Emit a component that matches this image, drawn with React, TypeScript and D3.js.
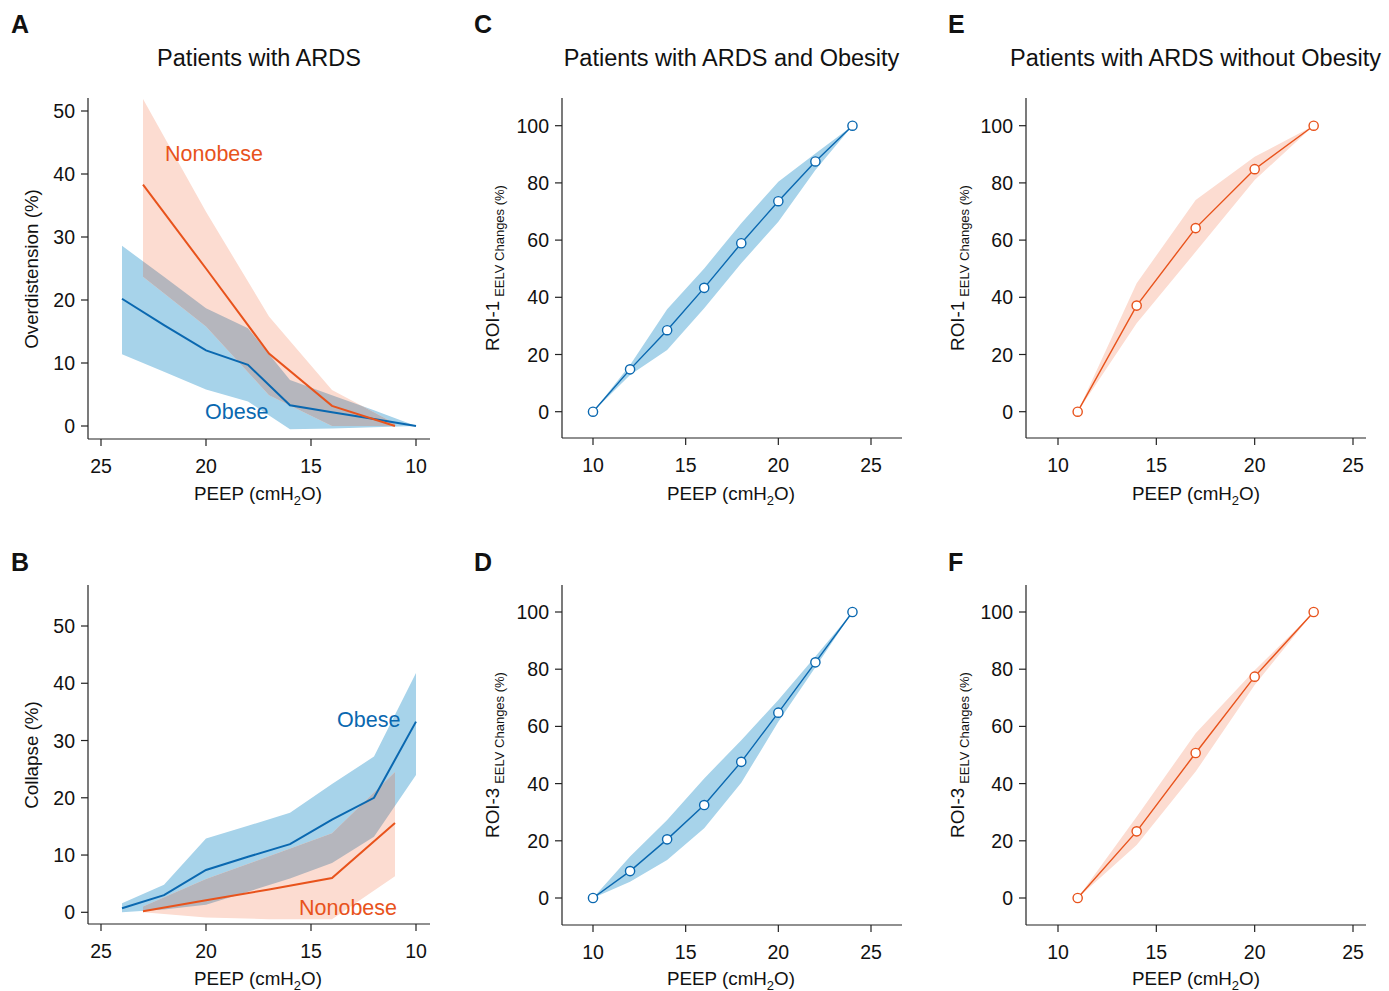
import React from 'react';
import * as d3 from 'd3';

// ---------- DATA ----------
const obesePeep = [24, 22, 20, 18, 16, 14, 12, 10];
const nonobesePeep = [23, 20, 17, 14, 11];

// Panel A: Overdistension (%)
const overObeseMean = [20.2, 16.0, 12.0, 9.7, 3.3, 2.2, 1.1, 0];
const overObeseLo = [11.4, 8.6, 5.8, 3.9, -0.5, -0.4, -0.2, 0];
const overObeseHi = [28.6, 23.7, 18.7, 15.5, 7.3, 4.9, 2.5, 0];
const overNonMean = [38.3, 25.0, 11.5, 3.2, 0];
const overNonLo = [23.7, 15.8, 4.9, 0, 0];
const overNonHi = [51.9, 34.0, 17.4, 5.7, 0.4];

// Panel B: Collapse (%)
const colObeseMean = [0.7, 3.0, 7.4, 9.7, 11.9, 16.2, 20.0, 33.3];
const colObeseLo = [0, 0.5, 1.3, 3.6, 5.9, 8.6, 13.2, 24.0];
const colObeseHi = [1.6, 4.8, 12.9, 15.1, 17.4, 22.4, 27.2, 41.8];
const colNonMean = [0.2, 2.1, 4.0, 6.0, 15.6];
const colNonLo = [0, -0.9, -1.2, -1.2, 6.3];
const colNonHi = [1.0, 5.8, 9.8, 13.8, 24.5];

// Panel C: ROI-1, obese
const cPeep = [10, 12, 14, 16, 18, 20, 22, 24];
const cMean = [0, 14.8, 28.5, 43.3, 58.9, 73.6, 87.5, 100];
const cLo = [0, 12.8, 21.6, 36.2, 51.9, 66.4, 84.5, 100];
const cHi = [0, 16.3, 35.8, 50.1, 65.9, 80.4, 90.3, 100];

// Panel D: ROI-3, obese
const dMean = [0, 9.4, 20.5, 32.5, 47.6, 64.8, 82.4, 100];
const dLo = [0, 5.7, 13.3, 24.4, 40.3, 61.6, 80.7, 100];
const dHi = [0, 14.5, 27.3, 41.8, 55.2, 69.2, 84.4, 100];

// Panel E: ROI-1, nonobese
const ePeep = [11, 14, 17, 20, 23];
const eMean = [0, 37.1, 64.2, 84.8, 100];
const eLo = [0, 30.9, 55.9, 81.0, 100];
const eHi = [0, 44.9, 74.0, 89.1, 100];

// Panel F: ROI-3, nonobese
const fMean = [0, 23.3, 50.7, 77.4, 100];
const fLo = [0, 18.5, 44.2, 74.5, 100];
const fHi = [0, 28.4, 57.6, 79.6, 100];

const peepTicks = [25, 20, 15, 10];
const peepTicksFwd = [10, 15, 20, 25];
const pctTicks50 = [0, 10, 20, 30, 40, 50];
const pctTicks100 = [0, 20, 40, 60, 80, 100];

const titles = ['Patients with ARDS', 'Patients with ARDS and Obesity', 'Patients with ARDS without Obesity'];

// ---------- STYLE ----------
const BLUE = '#0a68b0';
const BLUE_BAND = '#a7d3ea';
const ORANGE = '#e8531c';
const ORANGE_BAND = '#fcdcd1';
const GREY = '#b5b6bd';
const FONT = '"Liberation Sans", Arial, Helvetica, sans-serif';
const TICK_FS = 19.5;
const LABEL_FS = 18.8;

type Pt = { x: number; m: number; lo: number; hi: number };
const zipPts = (xs: number[], m: number[], lo: number[], hi: number[]): Pt[] =>
  xs.map((x, i) => ({ x, m: m[i], lo: lo[i], hi: hi[i] }));

type AxisCfg = {
  x: d3.ScaleLinear<number, number>;
  y: d3.ScaleLinear<number, number>;
  xTicks: number[];
  yTicks: number[];
  xLine: [number, number];
  yLine: [number, number];
};

function Axes({ x, y, xTicks, yTicks, xLine, yLine }: AxisCfg) {
  const ax = xLine[0];
  const ay = yLine[1];
  return (
    <g stroke="#222" strokeWidth={1.2} fill="none">
      <line x1={ax} x2={ax} y1={yLine[0]} y2={yLine[1]} />
      <line x1={xLine[0]} x2={xLine[1]} y1={ay} y2={ay} />
      {xTicks.map((t) => (
        <g key={'x' + t}>
          <line x1={x(t)} x2={x(t)} y1={ay} y2={ay + 7} />
          <text x={x(t)} y={ay + 33.5} textAnchor="middle" fill="#111" stroke="none" fontSize={TICK_FS} fontFamily={FONT}>
            {t}
          </text>
        </g>
      ))}
      {yTicks.map((t) => (
        <g key={'y' + t}>
          <line x1={ax - 7} x2={ax} y1={y(t)} y2={y(t)} />
          <text x={ax - 13} y={y(t) + 7} textAnchor="end" fill="#111" stroke="none" fontSize={TICK_FS} fontFamily={FONT}>
            {t}
          </text>
        </g>
      ))}
    </g>
  );
}

function PeepLabel({ cx, y }: { cx: number; y: number }) {
  return (
    <text x={cx} y={y} textAnchor="middle" fontSize={LABEL_FS} fontFamily={FONT} fill="#111">
      PEEP (cmH
      <tspan fontSize={13} dy={4.5}>2</tspan>
      <tspan dy={-4.5}>O)</tspan>
    </text>
  );
}

function RoiLabel({ x, cy, roi }: { x: number; cy: number; roi: string }) {
  return (
    <text transform={`translate(${x},${cy}) rotate(-90)`} textAnchor="middle" fontSize={LABEL_FS} fontFamily={FONT} fill="#111">
      {roi}
      <tspan fontSize={13} dy={5} dx={4}>EELV Changes (%)</tspan>
    </text>
  );
}

function ComparePanel(props: {
  id: string;
  cfg: AxisCfg;
  obese: Pt[];
  non: Pt[];
  labels: { text: string; x: number; y: number; color: string }[];
}) {
  const { cfg, obese, non, id } = props;
  const { x, y } = cfg;
  const area = d3
    .area<Pt>()
    .x((d) => x(d.x))
    .y0((d) => y(d.lo))
    .y1((d) => y(d.hi));
  const line = d3
    .line<Pt>()
    .x((d) => x(d.x))
    .y((d) => y(d.m));
  return (
    <g>
      <defs>
        <clipPath id={'clip-' + id}>
          <path d={area(obese) || ''} />
        </clipPath>
      </defs>
      <path d={area(obese) || ''} fill={BLUE_BAND} />
      <path d={area(non) || ''} fill={ORANGE_BAND} />
      <path d={area(non) || ''} fill={GREY} clipPath={`url(#clip-${id})`} />
      <path d={line(obese) || ''} fill="none" stroke={BLUE} strokeWidth={2} />
      <path d={line(non) || ''} fill="none" stroke={ORANGE} strokeWidth={2} />
      <Axes {...cfg} />
      {props.labels.map((l) => (
        <text key={l.text} x={l.x} y={l.y} fill={l.color} fontSize={21.5} fontFamily={FONT}>
          {l.text}
        </text>
      ))}
    </g>
  );
}

function RoiPanel(props: { cfg: AxisCfg; pts: Pt[]; color: string; band: string }) {
  const { cfg, pts, color, band } = props;
  const { x, y } = cfg;
  const area = d3
    .area<Pt>()
    .x((d) => x(d.x))
    .y0((d) => y(d.lo))
    .y1((d) => y(d.hi));
  const line = d3
    .line<Pt>()
    .x((d) => x(d.x))
    .y((d) => y(d.m));
  return (
    <g>
      <path d={area(pts) || ''} fill={band} />
      <path d={line(pts) || ''} fill="none" stroke={color} strokeWidth={1.4} />
      {pts.map((p, i) => (
        <circle key={i} cx={x(p.x)} cy={y(p.m)} r={4.6} fill="#fff" stroke={color} strokeWidth={1.4} />
      ))}
      <Axes {...cfg} />
    </g>
  );
}

export default function App() {
  // scales
  const xRev = d3.scaleLinear().domain([25, 10]).range([101, 416]);
  const yA = d3.scaleLinear().domain([0, 50]).range([426, 111]);
  const yB = d3.scaleLinear().domain([0, 50]).range([912.3, 626]);
  const xC = d3.scaleLinear().domain([10, 25]).range([593, 871]);
  const xE = d3.scaleLinear().domain([10, 25]).range([1058, 1353]);
  const yTop = d3.scaleLinear().domain([0, 100]).range([411.7, 125.7]);
  const yBot = d3.scaleLinear().domain([0, 100]).range([898, 612]);

  const cfgA: AxisCfg = { x: xRev, y: yA, xTicks: peepTicks, yTicks: pctTicks50, xLine: [88, 430], yLine: [98, 439] };
  const cfgB: AxisCfg = { x: xRev, y: yB, xTicks: peepTicks, yTicks: pctTicks50, xLine: [88, 430], yLine: [585, 924] };
  const cfgC: AxisCfg = { x: xC, y: yTop, xTicks: peepTicksFwd, yTicks: pctTicks100, xLine: [562, 902], yLine: [98, 438] };
  const cfgD: AxisCfg = { x: xC, y: yBot, xTicks: peepTicksFwd, yTicks: pctTicks100, xLine: [562, 902], yLine: [585, 925] };
  const cfgE: AxisCfg = { x: xE, y: yTop, xTicks: peepTicksFwd, yTicks: pctTicks100, xLine: [1026, 1366], yLine: [98, 438] };
  const cfgF: AxisCfg = { x: xE, y: yBot, xTicks: peepTicksFwd, yTicks: pctTicks100, xLine: [1026, 1366], yLine: [585, 925] };

  const letters = [
    { t: 'A', x: 11, y: 33 },
    { t: 'B', x: 11, y: 571 },
    { t: 'C', x: 474, y: 33 },
    { t: 'D', x: 474, y: 571 },
    { t: 'E', x: 948, y: 33 },
    { t: 'F', x: 948, y: 571 },
  ];

  return (
    <svg width={1389} height={991} style={{ position: 'absolute', left: 0, top: 0, background: '#fff' }}>
      {letters.map((l) => (
        <text key={l.t} x={l.x} y={l.y} fontSize={25} fontWeight="bold" fontFamily={FONT} fill="#111">
          {l.t}
        </text>
      ))}
      <text x={259} y={66} textAnchor="middle" fontSize={23.5} fontFamily={FONT} fill="#111">{titles[0]}</text>
      <text x={731.5} y={66} textAnchor="middle" fontSize={23.5} fontFamily={FONT} fill="#111">{titles[1]}</text>
      <text x={1195.5} y={66} textAnchor="middle" fontSize={23.5} fontFamily={FONT} fill="#111">{titles[2]}</text>

      <ComparePanel
        id="A"
        cfg={cfgA}
        obese={zipPts(obesePeep, overObeseMean, overObeseLo, overObeseHi)}
        non={zipPts(nonobesePeep, overNonMean, overNonLo, overNonHi)}
        labels={[
          { text: 'Nonobese', x: 165, y: 161, color: ORANGE },
          { text: 'Obese', x: 205, y: 419, color: BLUE },
        ]}
      />
      <ComparePanel
        id="B"
        cfg={cfgB}
        obese={zipPts(obesePeep, colObeseMean, colObeseLo, colObeseHi)}
        non={zipPts(nonobesePeep, colNonMean, colNonLo, colNonHi)}
        labels={[
          { text: 'Obese', x: 337, y: 727, color: BLUE },
          { text: 'Nonobese', x: 299, y: 915, color: ORANGE },
        ]}
      />
      <RoiPanel cfg={cfgC} pts={zipPts(cPeep, cMean, cLo, cHi)} color={BLUE} band={BLUE_BAND} />
      <RoiPanel cfg={cfgD} pts={zipPts(cPeep, dMean, dLo, dHi)} color={BLUE} band={BLUE_BAND} />
      <RoiPanel cfg={cfgE} pts={zipPts(ePeep, eMean, eLo, eHi)} color={ORANGE} band={ORANGE_BAND} />
      <RoiPanel cfg={cfgF} pts={zipPts(ePeep, fMean, fLo, fHi)} color={ORANGE} band={ORANGE_BAND} />

      <text transform="translate(38,269) rotate(-90)" textAnchor="middle" fontSize={LABEL_FS} fontFamily={FONT} fill="#111">
        Overdistension (%)
      </text>
      <text transform="translate(38,755) rotate(-90)" textAnchor="middle" fontSize={LABEL_FS} fontFamily={FONT} fill="#111">
        Collapse (%)
      </text>
      <RoiLabel x={499} cy={268} roi="ROI-1" />
      <RoiLabel x={499} cy={755} roi="ROI-3" />
      <RoiLabel x={964} cy={268} roi="ROI-1" />
      <RoiLabel x={964} cy={755} roi="ROI-3" />

      <PeepLabel cx={258} y={500} />
      <PeepLabel cx={731} y={500} />
      <PeepLabel cx={1196} y={500} />
      <PeepLabel cx={258} y={985} />
      <PeepLabel cx={731} y={985} />
      <PeepLabel cx={1196} y={985} />
    </svg>
  );
}
